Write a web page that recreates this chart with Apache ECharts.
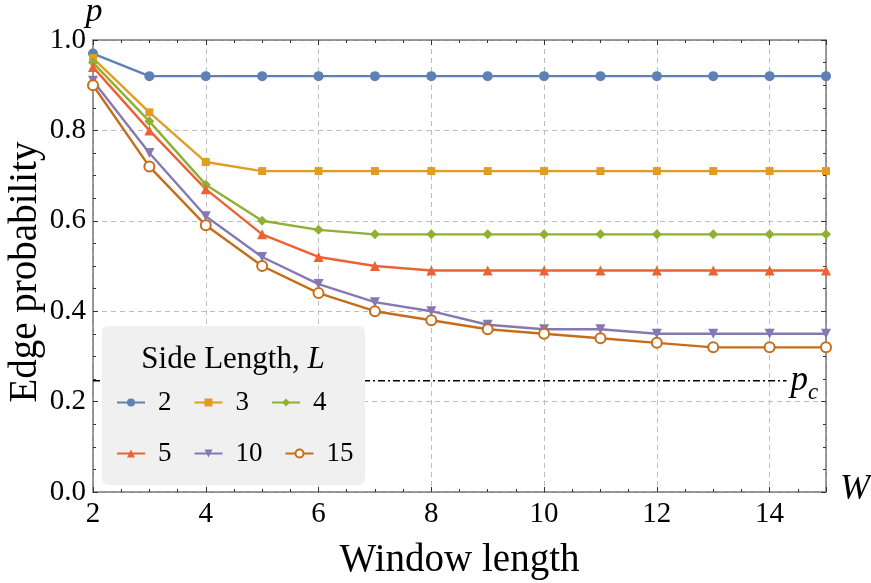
<!DOCTYPE html>
<html>
<head>
<meta charset="utf-8">
<script src="https://cdn.jsdelivr.net/npm/echarts@6/dist/echarts.min.js"></script>
<style>html,body{margin:0;padding:0;background:#fff}#c{width:871px;height:583px}</style>
</head>
<body>
<div id="c"></div>
<script>
const windowLengths = [2, 3, 4, 5, 6, 7, 8, 9, 10, 11, 12, 13, 14, 15];
const sideLengths = ['2', '3', '4', '5', '10', '15'];
const L2  = [0.97, 0.92, 0.92, 0.92, 0.92, 0.92, 0.92, 0.92, 0.92, 0.92, 0.92, 0.92, 0.92, 0.92];
const L3  = [0.96, 0.84, 0.73, 0.71, 0.71, 0.71, 0.71, 0.71, 0.71, 0.71, 0.71, 0.71, 0.71, 0.71];
const L4  = [0.95, 0.82, 0.68, 0.60, 0.58, 0.57, 0.57, 0.57, 0.57, 0.57, 0.57, 0.57, 0.57, 0.57];
const L5  = [0.94, 0.80, 0.67, 0.57, 0.52, 0.50, 0.49, 0.49, 0.49, 0.49, 0.49, 0.49, 0.49, 0.49];
const L10 = [0.91, 0.75, 0.61, 0.52, 0.46, 0.42, 0.40, 0.37, 0.36, 0.36, 0.35, 0.35, 0.35, 0.35];
const L15 = [0.90, 0.72, 0.59, 0.50, 0.44, 0.40, 0.38, 0.36, 0.35, 0.34, 0.33, 0.32, 0.32, 0.32];
const pcValue = 0.246;
const pcRange = [2, 14.3];
const xTicks = [2, 4, 6, 8, 10, 12, 14];
const yTicks = [0.0, 0.2, 0.4, 0.6, 0.8, 1.0];

const FONT = 'Liberation Serif';
const colors = ['#5E81B5', '#E19C24', '#8FB032', '#EB6235', '#8778B3', '#C56E1A'];
const symbols = ['circle', 'rect', 'diamond', 'triangle', 'triangle', 'emptyCircle'];
const symbolSizes = [10, 8, 10, 10, 10, 10];
const symbolRot = [0, 0, 0, 0, 180, 0];
const values = [L2, L3, L4, L5, L10, L15];

const series = sideLengths.map((name, i) => ({
  name: name,
  type: 'line',
  xAxisIndex: 0, yAxisIndex: 0,
  data: windowLengths.map((w, j) => [w, values[i][j]]),
  symbol: symbols[i],
  symbolSize: symbolSizes[i],
  symbolRotate: symbolRot[i],
  showAllSymbol: true,
  color: colors[i],
  lineStyle: { width: 2.4, color: colors[i] },
  itemStyle: { color: colors[i], borderColor: colors[i], borderWidth: i === 5 ? 1.2 : 0 },
  emphasis: { disabled: true },
  animation: false,
  z: 3
}));

series.push({
  name: 'pc',
  type: 'line',
  xAxisIndex: 0, yAxisIndex: 0,
  data: pcRange.map(x => [x, pcValue]),
  symbol: 'none',
  lineStyle: { color: '#000', width: 1.6, type: [7, 3, 2, 3] },
  animation: false,
  z: 2,
  endLabel: {
    show: true,
    distance: 4,
    formatter: '{p|p}{c|c}',
    rich: {
      p: { fontFamily: FONT, fontStyle: 'italic', fontSize: 35, color: '#000' },
      c: { fontFamily: FONT, fontStyle: 'italic', fontSize: 23, color: '#000', verticalAlign: 'bottom', padding: [0, 0, -6, 0] }
    }
  }
});

const axisCommon = {
  axisLine: { show: true, onZero: false, lineStyle: { color: '#7a7a7a', width: 1.5 } },
  axisTick: { show: true, inside: true, length: 5, lineStyle: { color: '#333', width: 1 } },
  minorTick: { show: true, splitNumber: 4, length: 3, lineStyle: { color: '#333', width: 1 } },
};

const option = {
  backgroundColor: '#fff',
  animation: false,
  grid: { left: 93, right: 45, top: 40, bottom: 91, containLabel: false, outerBoundsMode: 'none' },
  xAxis: [
    Object.assign({}, axisCommon, {
      type: 'value', min: 2, max: 15, interval: 2, position: 'bottom',
      name: 'Window length', nameLocation: 'middle', nameGap: 49,
      nameTextStyle: { fontFamily: FONT, fontSize: 39, color: '#000' },
      axisLabel: { show: true, fontFamily: FONT, fontSize: 29, color: '#000', margin: 8, showMaxLabel: false,
        formatter: v => (xTicks.indexOf(v) >= 0 ? String(v) : '') },
      splitLine: { show: true, lineStyle: { color: '#bdbdbd', type: [5, 4], width: 1 } }
    }),
    Object.assign({}, axisCommon, {
      type: 'value', min: 2, max: 15, interval: 2, position: 'top',
      axisLabel: { show: false }, splitLine: { show: false }
    })
  ],
  yAxis: [
    Object.assign({}, axisCommon, {
      type: 'value', min: 0, max: 1, interval: 0.2, position: 'left',
      axisLabel: { show: true, fontFamily: FONT, fontSize: 29, color: '#000', margin: 7,
        formatter: v => yTicks.find(t => Math.abs(t - v) < 1e-9).toFixed(1) },
      splitLine: { show: true, lineStyle: { color: '#bdbdbd', type: [5, 4], width: 1 } }
    }),
    Object.assign({}, axisCommon, {
      type: 'value', min: 0, max: 1, interval: 0.2, position: 'right',
      axisLabel: { show: false }, splitLine: { show: false }
    })
  ],
  legend: {
    data: sideLengths,
    left: 116, top: 388, width: 250,
    padding: 0,
    orient: 'horizontal',
    itemWidth: 28, itemHeight: 10, itemGap: 22,
    selectedMode: false,
    textStyle: { fontFamily: FONT, fontSize: 27, color: '#000', lineHeight: 29, padding: [0, 0, 0, 8] },
    z: 5
  },
  graphic: [
    { type: 'rect', shape: { x: 102, y: 326, width: 263, height: 159, r: 6 }, style: { fill: '#f0f0f0' }, z: 4 },
    { type: 'text', x: 233, y: 360, z: 5,
      style: { text: '{n|Side Length, }{i|L}', align: 'center', verticalAlign: 'middle',
        rich: { n: { fontFamily: FONT, fontSize: 31, fill: '#000' }, i: { fontFamily: FONT, fontSize: 31, fontStyle: 'italic', fill: '#000' } } } },
    { type: 'text', x: 26, y: 272, rotation: Math.PI / 2, z: 5,
      style: { text: 'Edge probability', fontFamily: FONT, fontSize: 39, fill: '#000', align: 'center', verticalAlign: 'middle' } },
    { type: 'text', x: 94, y: 12, z: 5,
      style: { text: 'p', fontFamily: FONT, fontSize: 34, fontStyle: 'italic', fill: '#000', align: 'center', verticalAlign: 'middle' } },
    { type: 'text', x: 855, y: 490, z: 5,
      style: { text: 'W', fontFamily: FONT, fontSize: 36, fontStyle: 'italic', fill: '#000', align: 'center', verticalAlign: 'middle' } }
  ],
  series: series
};

const chart = echarts.init(document.getElementById('c'), null, { renderer: 'canvas' });
chart.setOption(option);
</script>
</body>
</html>
